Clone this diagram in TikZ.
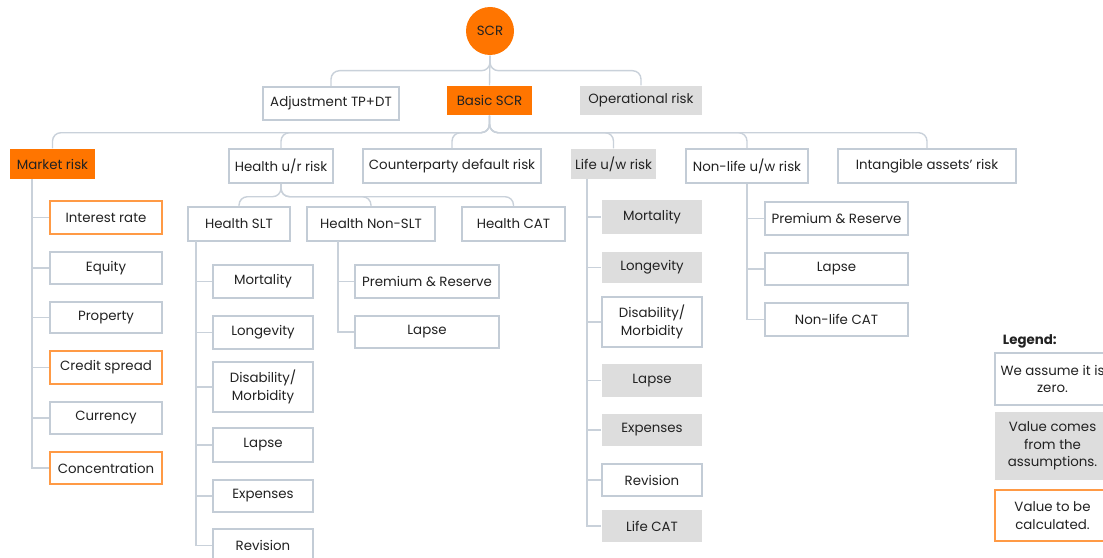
\documentclass[tikz,border=0pt]{standalone}
\usepackage{fontspec}
\setmainfont{Poppins}
\definecolor{scrorange}{HTML}{FF7500}
\definecolor{boxgray}{HTML}{DDDDDD}
\definecolor{edgegray}{HTML}{C3CCD6}
\definecolor{linkgray}{HTML}{C9D1DA}
\definecolor{calcorange}{HTML}{FF9A45}
\definecolor{ink}{HTML}{222222}
\tikzset{
	box/.style={draw=edgegray, line width=1pt, fill=white, align=center, inner sep=0pt, text=ink, font=\fontsize{9.5}{12.5}\selectfont},
	given/.style={box, draw=none, fill=boxgray},
	calc/.style={box, draw=calcorange},
	main/.style={box, draw=none, fill=scrorange},
	sz/.style 2 args={minimum width=#1*0.025cm, minimum height=#2*0.025cm},
	link/.style={draw=linkgray, line width=1pt},
	bar/.style={link, rounded corners=6},
}

\begin{document}
\begin{tikzpicture}[x=0.025cm, y=-0.025cm]
\useasboundingbox (0,0) rectangle (1103,558);
\clip (0,0) rectangle (1103,558);

% top levels
\node[main, circle, minimum size=48*0.025cm] (scr) at (490,31) {SCR};
\node[box, sz={136}{33}] (adj) at (331,103.5) {Adjustment TP+DT};
\node[main, sz={85}{29}] (bscr) at (489.5,100.5) {Basic SCR};
\node[given, sz={122}{29}] (oper) at (641,100.5) {Operational risk};

\node[main, sz={85}{30}] (mkt) at (52.5,164) {Market risk};
\node[box, sz={104}{34}] (hur) at (281,166) {Health u/r risk};
\node[box, sz={178}{34}] (cpd) at (452,166) {Counterparty default risk};
\node[given, sz={85}{30}] (life) at (613.5,164) {Life u/w risk};
\node[box, sz={122}{34}] (nonlife) at (747,166) {Non-life u/w risk};
\node[box, sz={178}{34}] (intang) at (927,166) {Intangible assets’ risk};

\draw[bar] (scr.south) -- ++(0,15) -| (adj.north);
\draw[bar] (scr.south) -- ++(0,15) -| (oper.north);
\draw[link] (scr.south) -- (bscr.north);
\foreach \n in {mkt,hur,cpd,life,nonlife,intang}{
	\draw[bar] (bscr.south) -- ++(0,17) -| (\n.north);
}

% market risk
\node[calc, sz={112}{33}] (ir) at (106,217.5) {Interest rate};
\node[box, sz={112}{32}] (eq) at (106,268) {Equity};
\node[box, sz={112}{31}] (prop) at (106,317.5) {Property};
\node[calc, sz={112}{33}] (cs) at (106,367.5) {Credit spread};
\node[box, sz={112}{32}] (cur) at (106,418) {Currency};
\node[calc, sz={112}{32}] (conc) at (106,468) {Concentration};
\coordinate (mspine) at (32,179);
\foreach \n in {ir,eq,prop,cs,cur,conc}{
	\draw[link] (mspine) |- (\n.west);
}

% health
\node[box, sz={102}{34}] (hslt) at (239,224) {Health SLT};
\node[box, sz={128}{34}] (hnslt) at (371,224) {Health Non-SLT};
\node[box, sz={103}{34}] (hcat) at (513.5,224) {Health CAT};
\foreach \n in {hslt,hnslt,hcat}{
	\draw[bar] (hur.south) -- ++(0,13) -| (\n.north);
}

\node[box, sz={100}{33}] (hmort) at (263,281.5) {Mortality};
\node[box, sz={100}{33}] (hlong) at (263,332.5) {Longevity};
\node[box, sz={100}{50}] (hdis) at (263,387) {Disability/\\Morbidity};
\node[box, sz={100}{34}] (hlapse) at (263,445) {Lapse};
\node[box, sz={100}{32}] (hexp) at (263,496) {Expenses};
\node[box, sz={100}{33}] (hrev) at (263,545.5) {Revision};
\coordinate (hspine) at (196,241);
\foreach \n in {hmort,hlong,hdis,hlapse,hexp,hrev}{
	\draw[link] (hspine) |- (\n.west);
}

\node[box, sz={144}{33}] (hprem) at (427,281.5) {Premium \& Reserve};
\node[box, sz={144}{32}] (hnlapse) at (427,332) {Lapse};
\coordinate (nspine) at (338,241);
\foreach \n in {hprem,hnlapse}{
	\draw[link] (nspine) |- (\n.west);
}

% life
\node[given, sz={100}{34}] (lmort) at (652,217) {Mortality};
\node[given, sz={100}{31}] (llong) at (652,267.5) {Longevity};
\node[box, sz={100}{50}] (ldis) at (652,322) {Disability/\\Morbidity};
\node[given, sz={100}{33}] (llapse) at (652,380.5) {Lapse};
\node[given, sz={100}{32}] (lexp) at (652,430) {Expenses};
\node[box, sz={100}{32}] (lrev) at (652,480) {Revision};
\node[given, sz={100}{32}] (lcat) at (652,526) {Life CAT};
\coordinate (lspine) at (587,179);
\foreach \n in {lmort,llong,ldis,llapse,lexp,lrev,lcat}{
	\draw[link] (lspine) |- (\n.west);
}

% non-life
\node[box, sz={143}{33}] (nprem) at (836.5,218.5) {Premium \& Reserve};
\node[box, sz={143}{32}] (nlapse) at (836.5,269) {Lapse};
\node[box, sz={143}{33}] (ncat) at (836.5,319.5) {Non-life CAT};
\foreach \n in {nprem,nlapse,ncat}{
	\draw[link] (nonlife.south) |- (\n.west);
}

% legend
\node[anchor=west, text=ink, font=\fontsize{9.5}{12.5}\selectfont\bfseries] (legend) at (998,341) {Legend:};
\node[box, sz={115}{52}] (zero) at (1052.5,379) {We assume it is\\zero.};
\node[given, sz={115}{68}] (assum) at (1052.5,446) {Value comes\\from the\\assumptions.};
\node[calc, sz={115}{51}] (tocalc) at (1052.5,515.5) {Value to be\\calculated.};
\end{tikzpicture}
\end{document}
